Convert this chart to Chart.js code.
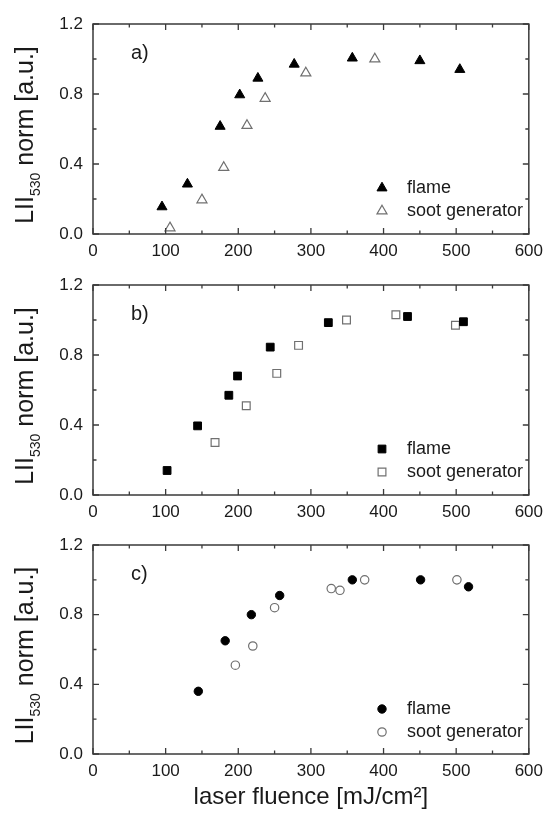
<!DOCTYPE html>
<html>
<head>
<meta charset="utf-8">
<script src="https://cdn.jsdelivr.net/npm/chart.js@4.4.1/dist/chart.umd.min.js"></script>
<style>
    body { margin: 0; background: #fff; }
    canvas { position: absolute; left: 0; }
</style>
</head>
<body>
<canvas id="chartA" width="550" height="262" style="top:0px"></canvas>
<canvas id="chartB" width="550" height="262" style="top:261px"></canvas>
<canvas id="chartC" width="550" height="296" style="top:521px"></canvas>
<script>
// Panel a) - triangles
const fluenceFlameA = [95, 130, 175, 202, 227, 277, 357, 450, 505];
const signalFlameA = [0.155, 0.285, 0.615, 0.795, 0.89, 0.97, 1.005, 0.99, 0.94];
const fluenceSootA = [106, 150, 180, 212, 237, 293, 388];
const signalSootA = [0.035, 0.195, 0.38, 0.62, 0.775, 0.92, 1.00];

// Panel b) - squares
const fluenceFlameB = [102, 144, 187, 199, 244, 324, 433, 510];
const signalFlameB = [0.14, 0.395, 0.57, 0.68, 0.845, 0.985, 1.02, 0.99];
const fluenceSootB = [168, 211, 253, 283, 349, 417, 499];
const signalSootB = [0.30, 0.51, 0.695, 0.855, 1.00, 1.03, 0.97];

// Panel c) - circles
const fluenceFlameC = [145, 182, 218, 257, 357, 451, 517];
const signalFlameC = [0.36, 0.65, 0.80, 0.91, 1.00, 1.00, 0.96];
const fluenceSootC = [196, 220, 250, 328, 340, 374, 501];
const signalSootC = [0.51, 0.62, 0.84, 0.95, 0.94, 1.00, 1.00];

const xTickMin = 0, xTickMax = 600, xTickStep = 100;
const yTickMin = 0, yTickMax = 1.2, yTickStep = 0.4;

const FONT = "'Liberation Sans', Arial, sans-serif";
const INK = '#1a1a1a';

function toPoints(xs, ys) {
    return xs.map((x, i) => ({ x: x, y: ys[i] }));
}

// box frame with inward major/minor ticks on all four sides
const frameTicks = {
    id: 'frameTicks',
    afterDraw(chart) {
        const { ctx, chartArea: a, scales: { x, y } } = chart;
        ctx.save();
        ctx.strokeStyle = '#3a3a3a';
        ctx.lineWidth = 1.5;
        ctx.strokeRect(a.left, a.top, a.right - a.left, a.bottom - a.top);

        const withMinor = (vals) => {
            let out = [];
            for (let i = 0; i < vals.length; i++) {
                out.push({ v: vals[i], len: 6 });
                if (i < vals.length - 1) out.push({ v: (vals[i] + vals[i + 1]) / 2, len: 3.5 });
            }
            return out;
        };
        ctx.lineWidth = 1.3;
        ctx.beginPath();
        withMinor(x.ticks.map(t => t.value)).forEach(t => {
            const px = x.getPixelForValue(t.v);
            ctx.moveTo(px, a.bottom); ctx.lineTo(px, a.bottom - t.len);
            ctx.moveTo(px, a.top); ctx.lineTo(px, a.top + t.len);
        });
        withMinor(y.ticks.map(t => t.value)).forEach(t => {
            const py = y.getPixelForValue(t.v);
            ctx.moveTo(a.left, py); ctx.lineTo(a.left + t.len, py);
            ctx.moveTo(a.right, py); ctx.lineTo(a.right - t.len, py);
        });
        ctx.stroke();
        ctx.restore();
    }
};

// panel letter, legend inside the plot, and the y title with subscript
const decorations = {
    id: 'decorations',
    afterDraw(chart, args, opts) {
        const { ctx, chartArea: a } = chart;
        ctx.save();
        ctx.fillStyle = INK;
        ctx.textBaseline = 'middle';
        ctx.textAlign = 'left';
        ctx.font = '20px ' + FONT;
        ctx.fillText(opts.label, a.left + 38, a.top + 29);

        // legend
        ctx.font = '18px ' + FONT;
        chart.data.datasets.forEach((ds, i) => {
            const mx = a.left + 289;
            const my = a.top + 164 + i * 23;
            ctx.fillStyle = ds.backgroundColor;
            ctx.strokeStyle = ds.borderColor;
            ctx.lineWidth = ds.borderWidth;
            Chart.helpers.drawPoint(ctx, {
                pointStyle: ds.pointStyle,
                radius: ds.pointRadius,
                rotation: 0,
                borderWidth: ds.borderWidth
            }, mx, my);
            ctx.fillStyle = INK;
            ctx.fillText(ds.label, mx + 25, my);
        });

        // y axis title: LII530 norm [a.u.]
        const mainFont = '25px ' + FONT;
        const subFont = '14px ' + FONT;
        ctx.font = mainFont;
        const w1 = ctx.measureText('LII').width;
        const w3 = ctx.measureText(' norm [a.u.]').width;
        ctx.font = subFont;
        const w2 = ctx.measureText('530').width;
        const total = w1 + w2 + w3;
        ctx.translate(33, (a.top + a.bottom) / 2 + 6);
        ctx.rotate(-Math.PI / 2);
        ctx.textBaseline = 'alphabetic';
        ctx.fillStyle = INK;
        let cx = -total / 2;
        ctx.font = mainFont;
        ctx.fillText('LII', cx, 0);
        cx += w1;
        ctx.font = subFont;
        ctx.fillText('530', cx, 7);
        cx += w2;
        ctx.font = mainFont;
        ctx.fillText(' norm [a.u.]', cx, 0);
        ctx.restore();
    }
};

function createPanel(id, label, style, flameX, flameY, sootX, sootY, withTitle) {
    const radius = style === 'circle' ? 4.2 : (style === 'rect' ? 5.5 : 5.8);
    const ctx = document.getElementById(id).getContext('2d');
    new Chart(ctx, {
        type: 'scatter',
        data: {
            datasets: [{
                label: 'flame',
                data: toPoints(flameX, flameY),
                pointStyle: style,
                pointRadius: radius,
                backgroundColor: '#000',
                borderColor: '#000',
                borderWidth: 1
            }, {
                label: 'soot generator',
                data: toPoints(sootX, sootY),
                pointStyle: style,
                pointRadius: radius,
                backgroundColor: '#fff',
                borderColor: '#707070',
                borderWidth: 1.2
            }]
        },
        options: {
            responsive: false,
            animation: false,
            layout: { padding: { top: 24, right: 16, left: 0, bottom: 0 } },
            scales: {
                x: {
                    type: 'linear',
                    min: xTickMin,
                    max: xTickMax,
                    grid: { display: false, drawTicks: false },
                    border: { display: false },
                    ticks: {
                        stepSize: xTickStep,
                        padding: 7,
                        color: INK,
                        font: { family: FONT, size: 17 }
                    },
                    title: {
                        display: withTitle,
                        text: 'laser fluence [mJ/cm²]',
                        color: INK,
                        font: { family: FONT, size: 24 },
                        padding: { top: 0, bottom: 5 }
                    },
                    afterFit: s => { s.height = withTitle ? 63 : 28; }
                },
                y: {
                    min: yTickMin,
                    max: yTickMax,
                    grid: { display: false, drawTicks: false },
                    border: { display: false },
                    ticks: {
                        stepSize: yTickStep,
                        padding: 10,
                        color: INK,
                        font: { family: FONT, size: 17 },
                        callback: v => v.toFixed(1)
                    },
                    afterFit: s => { s.width = 93; }
                }
            },
            plugins: {
                legend: { display: false },
                tooltip: { enabled: false },
                decorations: { label: label }
            }
        },
        plugins: [frameTicks, decorations]
    });
}

document.addEventListener('DOMContentLoaded', function() {
    createPanel('chartA', 'a)', 'triangle', fluenceFlameA, signalFlameA, fluenceSootA, signalSootA, false);
    createPanel('chartB', 'b)', 'rect', fluenceFlameB, signalFlameB, fluenceSootB, signalSootB, false);
    createPanel('chartC', 'c)', 'circle', fluenceFlameC, signalFlameC, fluenceSootC, signalSootC, true);
});
</script>
</body>
</html>
